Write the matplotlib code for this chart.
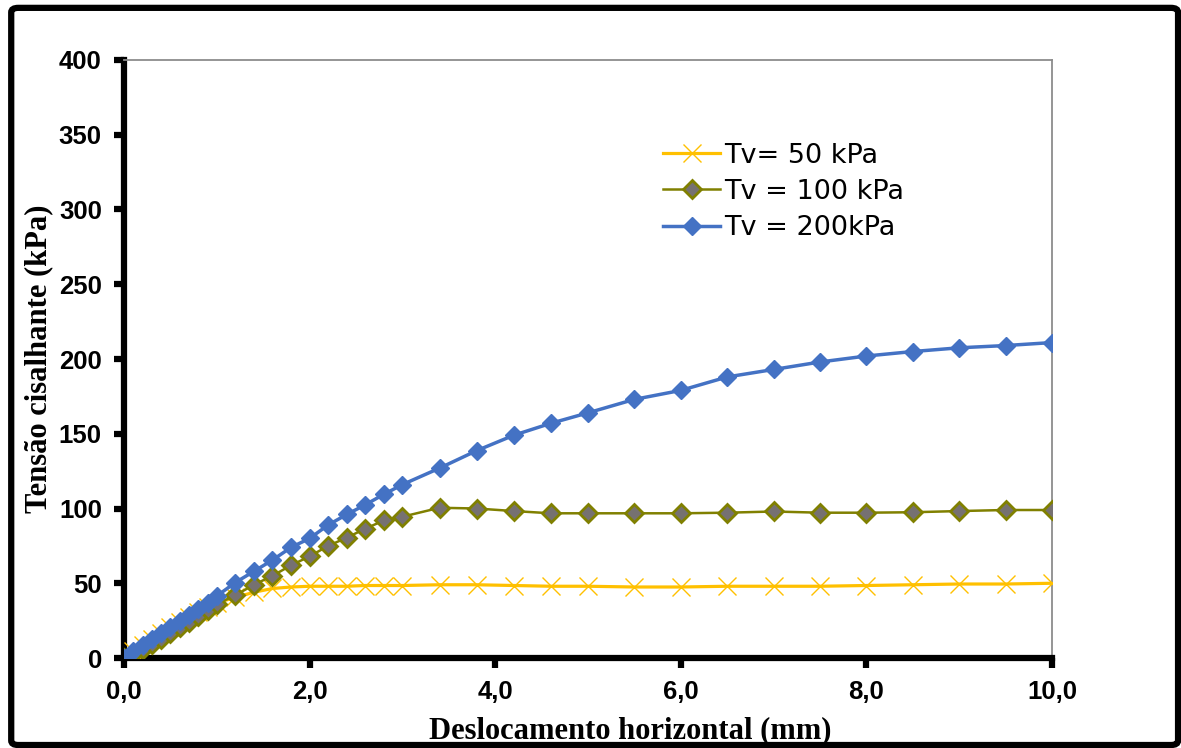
import matplotlib
matplotlib.use('Agg')
from matplotlib import pyplot as plt
from matplotlib.patches import FancyBboxPatch
from matplotlib.ticker import FuncFormatter

# displacement (mm)
x = [0.0, 0.1, 0.2, 0.3, 0.4, 0.5, 0.6, 0.7, 0.8, 0.9, 1.0,
     1.2, 1.4, 1.6, 1.8, 2.0, 2.2, 2.4, 2.6, 2.8, 3.0,
     3.4, 3.8, 4.2, 4.6, 5.0, 5.5, 6.0, 6.5, 7.0, 7.5, 8.0, 8.5, 9.0, 9.5, 10.0]

# shear stress (kPa)
tau50 = [0, 5, 9, 13, 17, 20.5, 24, 27.5, 31, 34, 37,
         40.5, 44, 46.5, 47.5, 48, 48, 48, 48.5, 48.5, 48.5,
         49, 49, 48.5, 48, 48, 47.5, 47.5, 48, 48, 48, 48.5, 49, 49.5, 49.5, 50]
tau100 = [0, 2.5, 6, 9.5, 13, 17, 20.5, 24, 28, 32, 36,
          42, 49, 55, 62, 68, 75, 80.5, 86.5, 92, 94.5,
          100.5, 100, 98.3, 96.8, 96.8, 96.8, 96.8, 97.2, 98, 97.2, 97.2, 97.5, 98.3, 99, 99]
tau200 = [0, 4.5, 8.5, 12.5, 16.5, 20.5, 24.5, 28.5, 33, 37, 41.5,
          50.5, 58, 65.5, 74, 80, 89, 96, 102.5, 109.5, 116,
          127, 138.7, 149, 157, 164, 173, 179, 188, 193, 198, 202, 205, 207.5, 209, 211]

labels = ['Tv= 50 kPa', 'Tv = 100 kPa', 'Tv = 200kPa']

fig = plt.figure(figsize=(11.81, 7.48), dpi=100)
ax = fig.add_axes([0.105, 0.1203, 0.7858, 0.7995])

ax.plot(x, tau50, color='#FFC000', lw=2.3, marker='x', ms=13, mew=1.0,
        mec='#FFC000', label=labels[0], zorder=3)
ax.plot(x, tau100, color='#808000', lw=1.8, marker='D', ms=9.5, mfc='#767171',
        mec='#808000', mew=2.0, label=labels[1], zorder=4)
ax.plot(x, tau200, color='#4472C4', lw=2.5, marker='D', ms=9.5, mfc='#4472C4',
        mec='#4472C4', label=labels[2], zorder=5)

ax.set_xlim(0, 10)
ax.set_ylim(0, 400)
ax.set_xticks([0, 2, 4, 6, 8, 10])
ax.set_yticks(range(0, 401, 50))
ax.xaxis.set_major_formatter(FuncFormatter(lambda v, p: f'{v:.1f}'.replace('.', ',')))

for s in ['left', 'bottom']:
    ax.spines[s].set_linewidth(4.5)
    ax.spines[s].set_color('black')
for s in ['top', 'right']:
    ax.spines[s].set_linewidth(1.3)
    ax.spines[s].set_color('#8C8C8C')
for sp in ax.spines.values():
    sp.set_zorder(2)

ax.tick_params(direction='out', length=7, width=4.5, color='black')
ax.tick_params(axis='x', pad=9)
ax.tick_params(axis='y', pad=9)
for lab in ax.get_xticklabels() + ax.get_yticklabels():
    lab.set_fontfamily('Liberation Sans')
    lab.set_fontweight('bold')
    lab.set_fontsize(18.5)

ax.set_xlabel('Deslocamento horizontal (mm)', family='Liberation Serif',
              fontweight='bold', fontsize=22)
ax.xaxis.set_label_coords(0.546, -0.098)
ax.set_ylabel('Tensão cisalhante (kPa)', family='Liberation Serif',
              fontweight='bold', fontsize=22, labelpad=4)

leg = ax.legend(loc='upper left', bbox_to_anchor=(0.581, 0.862), frameon=False,
                prop={'family': 'DejaVu Sans', 'size': 19.5}, handlelength=2.1,
                handletextpad=0.15, labelspacing=0.38, borderpad=0, borderaxespad=0)

# outer border
fig.patches.append(FancyBboxPatch((0.0095, 0.004), 0.988, 0.9855,
                                  boxstyle='round,pad=0,rounding_size=0.006',
                                  transform=fig.transFigure, fill=False,
                                  lw=4.5, ec='black'))

fig.savefig('out.png', dpi=100)
